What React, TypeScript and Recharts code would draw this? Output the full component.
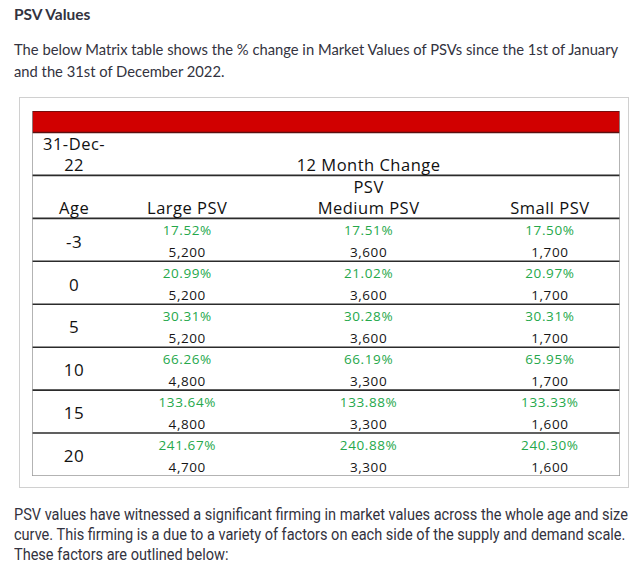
import React from "react";
import {
  ScatterChart,
  Scatter,
  XAxis,
  YAxis,
  ReferenceLine,
  ReferenceArea,
} from "recharts";

// ---------- data ----------
const ages = [-3, 0, 5, 10, 15, 20];
const sizeLabels = ["Large PSV", "Medium PSV", "Small PSV"];
const largeChange = [17.52, 20.99, 30.31, 66.26, 133.64, 241.67];
const largeValue = [5200, 5200, 5200, 4800, 4800, 4700];
const mediumChange = [17.51, 21.02, 30.28, 66.19, 133.88, 240.88];
const mediumValue = [3600, 3600, 3600, 3300, 3300, 3300];
const smallChange = [17.5, 20.97, 30.31, 65.95, 133.33, 240.3];
const smallValue = [1700, 1700, 1700, 1700, 1600, 1600];
const dateLabel = ["31-Dec-", "22"];
const periodLabel = "12 Month Change";
const groupLabel = "PSV";
const ageLabel = "Age";

// ---------- layout ----------
const TABLE_W = 587;
const TABLE_H = 365;
const COL = [42, 155, 336, 517]; // age, large, medium, small column centres
const HEADER_ROWS = 2;
const TABLE_FONT = "'Open Sans', 'Noto Sans', sans-serif";

const changes = [largeChange, mediumChange, smallChange];
const values = [largeValue, mediumValue, smallValue];

const headerCells = [
  { x: COL[0], y: 0.25, text: dateLabel[0] },
  { x: COL[0], y: 0.74, text: dateLabel[1] },
  { x: COL[2], y: 0.74, text: periodLabel },
  { x: COL[2], y: 1.25, text: groupLabel },
  { x: COL[0], y: 1.75, text: ageLabel },
  ...sizeLabels.map((s, i) => ({ x: COL[i + 1], y: 1.75, text: s })),
];

const ageCells = ages.map((a, r) => ({
  x: COL[0],
  y: HEADER_ROWS + r + 0.53,
  text: String(a),
}));

const changeCells = changes.flatMap((arr, c) =>
  arr.map((v, r) => ({
    x: COL[c + 1],
    y: HEADER_ROWS + r + 0.28,
    text: v.toFixed(2) + "%",
  }))
);

const valueCells = values.flatMap((arr, c) =>
  arr.map((v, r) => ({
    x: COL[c + 1],
    y: HEADER_ROWS + r + 0.79,
    text: v.toLocaleString("en-US"),
  }))
);

const rowLines = Array.from(
  { length: HEADER_ROWS + ages.length - 1 },
  (_, i) => i + 1
);

const makeShape =
  (fill: string, size: number, spacing: number, weight: number) =>
  (props: any) => {
    const { cx, cy, payload } = props;
    return (
      <text
        x={cx}
        y={cy}
        textAnchor="middle"
        dominantBaseline="central"
        fill={fill}
        fontSize={size}
        fontWeight={weight}
        fontFamily={TABLE_FONT}
        letterSpacing={spacing}
      >
        {payload.text}
      </text>
    );
  };

const TableChart = () => (
  <ScatterChart
    width={TABLE_W + 1}
    height={TABLE_H}
    margin={{ top: 0, right: 0, bottom: 0, left: 0 }}
  >
    <XAxis type="number" dataKey="x" domain={[0, TABLE_W]} hide />
    <YAxis
      type="number"
      dataKey="y"
      domain={[-0.5, HEADER_ROWS + ages.length]}
      reversed
      hide
    />
    <ReferenceArea
      y1={-0.5}
      y2={0}
      x1={0}
      x2={TABLE_W}
      fill="#d10000"
      fillOpacity={1}
      stroke="#5a1010"
      strokeWidth={1.5}
    />
    {rowLines.map((y) => (
      <ReferenceLine key={y} y={y} stroke="#2b2b2b" strokeWidth={1.6} />
    ))}
    <ReferenceLine y={HEADER_ROWS + ages.length} stroke="#9a9a9a" strokeWidth={1.5} />
    <ReferenceLine x={0} stroke="#9a9a9a" strokeWidth={1.5} />
    <ReferenceLine x={TABLE_W} stroke="#9a9a9a" strokeWidth={1.5} />
    <Scatter
      data={headerCells}
      isAnimationActive={false}
      shape={makeShape("#111111", 16.5, 0.5, 500)}
    />
    <Scatter
      data={ageCells}
      isAnimationActive={false}
      shape={makeShape("#111111", 17, 0.5, 500)}
    />
    <Scatter
      data={changeCells}
      isAnimationActive={false}
      shape={makeShape("#25a84b", 13.5, 0.6, 500)}
    />
    <Scatter
      data={valueCells}
      isAnimationActive={false}
      shape={makeShape("#161616", 13.5, 0.6, 500)}
    />
  </ScatterChart>
);

const BODY_FONT = "Lato, 'Open Sans', sans-serif";
const NARROW_FONT = "Roboto, 'Liberation Sans', sans-serif";

export default function App() {
  return (
    <div
      style={{
        position: "absolute",
        left: 0,
        top: 0,
        width: 640,
        height: 579,
        background: "#fff",
        overflow: "hidden",
        color: "#333340",
      }}
    >
      <div
        style={{
          position: "absolute",
          left: 14,
          top: 4,
          fontFamily: BODY_FONT,
          fontWeight: 700,
          fontSize: 15.5,
          lineHeight: "20px",
          whiteSpace: "nowrap",
        }}
      >
        PSV Values
      </div>
      <div
        style={{
          position: "absolute",
          left: 14,
          top: 38,
          fontFamily: BODY_FONT,
          fontSize: 14.75,
          lineHeight: "22px",
          whiteSpace: "nowrap",
        }}
      >
        The below Matrix table shows the % change in Market Values of PSVs since the 1st of January
        <br />
        and the 31st of December 2022.
      </div>
      <div
        style={{
          position: "absolute",
          left: 19,
          top: 97,
          width: 608,
          height: 389,
          border: "1px solid #d0d0d0",
        }}
      />
      <div style={{ position: "absolute", left: 32, top: 111 }}>
        <TableChart />
      </div>
      <div
        style={{
          position: "absolute",
          left: 14,
          top: 505,
          fontFamily: NARROW_FONT,
          fontSize: 16,
          lineHeight: "20px",
          whiteSpace: "nowrap",
          transform: "scaleX(0.908)",
          transformOrigin: "left top",
        }}
      >
        PSV values have witnessed a significant firming in market values across the whole age and size
        <br />
        curve. This firming is a due to a variety of factors on each side of the supply and demand scale.
        <br />
        These factors are outlined below:
      </div>
    </div>
  );
}
